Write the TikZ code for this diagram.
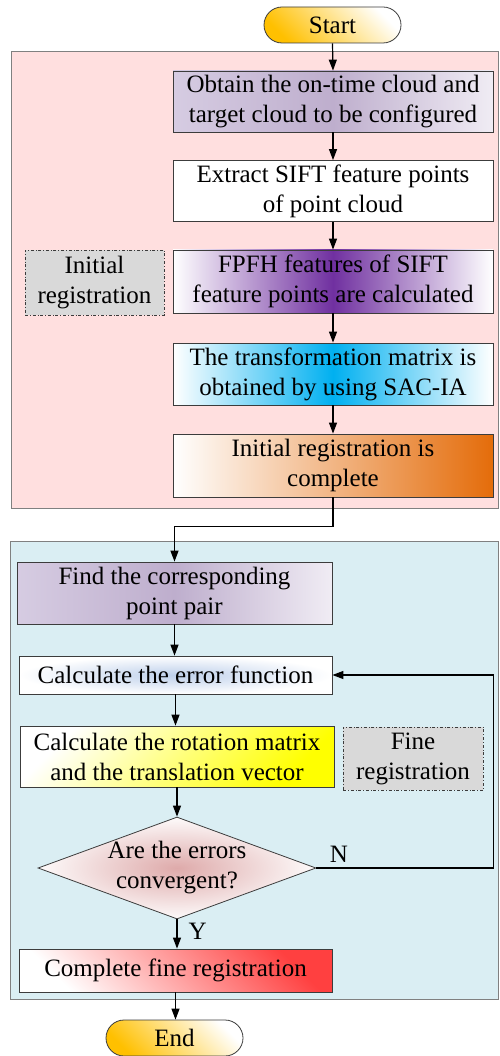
\documentclass[tikz,border=0pt]{standalone}
\usepackage{fontspec}
\setmainfont{Liberation Serif}
\usetikzlibrary{arrows.meta,shapes.misc,shapes.geometric,calc}
\definecolor{pinkbg}{RGB}{255,223,223}
\definecolor{bluebg}{RGB}{218,238,243}
\definecolor{lab}{RGB}{217,217,217}
\definecolor{gold}{RGB}{255,192,0}
\definecolor{lav}{RGB}{214,204,226}
\definecolor{lavd}{RGB}{190,174,205}
\definecolor{lavl}{RGB}{240,236,244}
\definecolor{purp}{RGB}{112,48,160}
\definecolor{cyanb}{RGB}{0,176,240}
\definecolor{orng}{RGB}{228,108,10}
\definecolor{lblue}{RGB}{190,208,235}
\definecolor{redd}{RGB}{255,64,64}
\definecolor{dia}{RGB}{222,170,170}
\definecolor{bord}{RGB}{60,60,60}
\tikzset{
  every node/.style={font=\fontsize{25}{30}\selectfont, align=center},
  box/.style={draw=bord, line width=0.8pt, rectangle, inner sep=0pt},
  term/.style={draw=bord, line width=0.8pt, rounded rectangle, minimum width=137pt, minimum height=36pt, inner sep=0pt,
     top color=white, bottom color=gold, shading angle=-45},
  labbox/.style={draw=bord, line width=0.6pt, dash dot, fill=lab, inner sep=0pt},
  arr/.style={line width=1.2pt, -{Triangle[length=11pt,width=8pt]}},
  region/.style={draw=gray, line width=0.8pt}
}
\begin{document}
\begin{tikzpicture}[x=1pt,y=-1pt]
\useasboundingbox (0,0) rectangle (499,1056);
% regions
\path[region, fill=pinkbg] (11,51) rectangle (498.5,508);
\path[region, fill=bluebg] (10,541) rectangle (498.5,999);
% nodes
\node[term] (start) at (332.5,25) {Start};
\node[box, minimum width=320pt, minimum height=61pt, left color=lav, right color=lavl, middle color=lavd] (b1) at (333,101.5) {Obtain the on-time cloud and\\target cloud to be configured};
\node[box, minimum width=320pt, minimum height=61pt, fill=white] (b2) at (333,191) {Extract SIFT feature points\\of point cloud};
\node[box, minimum width=320pt, minimum height=63pt, left color=white, right color=white, middle color=purp] (b3) at (333,281.5) {FPFH features of SIFT\\feature points are calculated};
\node[box, minimum width=320pt, minimum height=62pt, left color=white, right color=white, middle color=cyanb] (b4) at (333,374) {The transformation matrix is\\obtained by using SAC-IA};
\node[box, minimum width=320pt, minimum height=63pt, left color=white, right color=orng] (b5) at (333,465.5) {Initial registration is\\complete};
\node[labbox, minimum width=139pt, minimum height=65pt] (l1) at (94.5,282.5) {Initial\\registration};
\node[box, minimum width=315pt, minimum height=62pt, left color=lav, right color=lavl, middle color=lavd] (b6) at (174.5,593) {Find the corresponding\\point pair};
\node[box, minimum width=313pt, minimum height=38pt, inner color=lblue, outer color=white] (b7) at (175.5,675) {Calculate the error function};
\node[box, minimum width=314pt, minimum height=61pt, top color=white, bottom color=yellow, shading angle=45] (b8) at (177,756.5) {Calculate the rotation matrix\\and the translation vector};
\node[labbox, minimum width=140pt, minimum height=63pt] (l2) at (413,758.5) {Fine\\registration};
\node[diamond, draw=bord, line width=0.8pt, minimum width=278pt, minimum height=102pt, inner sep=0pt, inner color=dia, outer color=white!95!dia] (d) at (177,868) {};
\node (dt) at (d.center) {Are the errors\\convergent?};
\node[box, minimum width=313pt, minimum height=43pt, top color=redd, bottom color=white, shading angle=-45] (b9) at (175.5,970.5) {Complete fine registration};
\node[term] (end) at (174.5,1038) {End};
% connectors
\draw[arr] (start.south) -- (b1.north);
\draw[arr] (b1.south) -- (b2.north);
\draw[arr] (b2.south) -- (b3.north);
\draw[arr] (b3.south) -- (b4.north);
\draw[arr] (b4.south) -- (b5.north);
\draw[arr] (b5.south) -- ++(0,29) -| (b6.north);
\draw[arr] (b6.south) -- (b7.north -| b6.south);
\draw[arr] (b7.south) -- (b8.north -| b7.south);
\draw[arr] (b8.south) -- (d.north -| b8.south);
\draw[arr] (d.south) -- (b9.north -| d.south);
\draw[arr] (b9.south) -- (end.north -| b9.south);
\draw[arr] (d.east) -- ++(177,0) coordinate (lp) |- (b7.east);
\node[anchor=south west] (nl) at ($(d.east)+(10,-2)$) {N};
\node[anchor=west] (yl) at ($(d.south)+(8,12)$) {Y};
\end{tikzpicture}
\end{document}
